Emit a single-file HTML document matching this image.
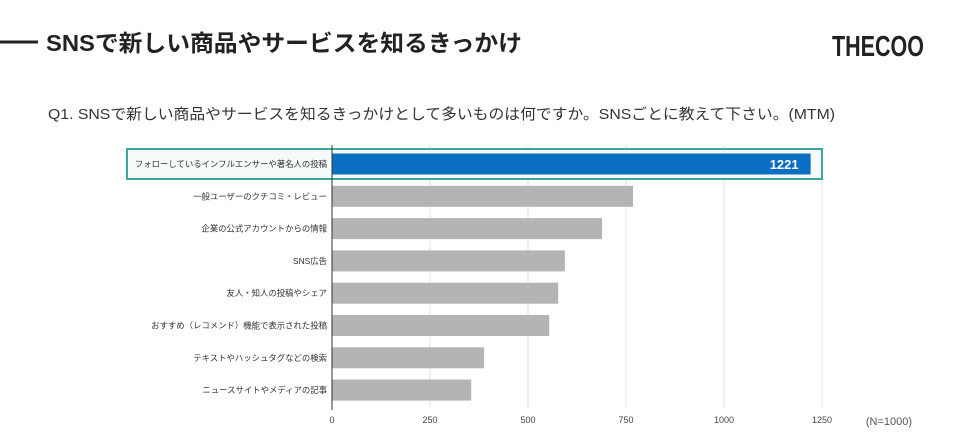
<!DOCTYPE html>
<html><head><meta charset="utf-8"><style>
body{margin:0;background:#fff;width:960px;height:441px;overflow:hidden;font-family:"Liberation Sans","Noto Sans CJK JP",sans-serif;}
</style></head><body>
<svg width="960" height="441" xmlns="http://www.w3.org/2000/svg" font-family="Liberation Sans, Noto Sans CJK JP, sans-serif">
<line x1="0" y1="42" x2="38" y2="42" stroke="#222" stroke-width="3"/>
<text x="46" y="51" font-size="23" font-weight="bold" fill="#222" textLength="476" lengthAdjust="spacingAndGlyphs">SNSで新しい商品やサービスを知るきっかけ</text>
<text x="878" y="56" font-size="29" font-weight="bold" fill="#222" text-anchor="middle" textLength="92" lengthAdjust="spacingAndGlyphs">THECOO</text>
<text x="48" y="119" font-size="15" fill="#333" textLength="787" lengthAdjust="spacingAndGlyphs">Q1. SNSで新しい商品やサービスを知るきっかけとして多いものは何ですか。SNSごとに教えて下さい。(MTM)</text>
<g id="chart"></g>
<text x="912" y="425" font-size="11" fill="#555" text-anchor="end">(N=1000)</text>
</svg>
<script>
const categories=["フォローしているインフルエンサーや著名人の投稿","一般ユーザーのクチコミ・レビュー","企業の公式アカウントからの情報","SNS広告","友人・知人の投稿やシェア","おすすめ（レコメンド）機能で表示された投稿","テキストやハッシュタグなどの検索","ニュースサイトやメディアの記事"];
const values=[1221,768,689,594,577,554,388,355];
const ticks=[0,250,500,750,1000,1250];
const NS="http://www.w3.org/2000/svg";
const g=document.getElementById('chart');
const x0=332,x1=822,max=1250;
const xs=v=>x0+v/max*(x1-x0);
const yTop=148,step=32.3,bh=21;
function mk(t,a){const e=document.createElementNS(NS,t);for(const k in a)e.setAttribute(k,a[k]);g.appendChild(e);return e;}
ticks.forEach(t=>{
 if(t>0){const l=mk('line',{x1:xs(t),x2:xs(t),y1:145,y2:408,stroke:'#e2e2e2','stroke-width':1});
 
 }
 const tx=mk('text',{x:xs(t),y:423,'font-size':9,fill:'#444','text-anchor':'middle'});tx.textContent=t;
 
 
});
const hb=mk('rect',{x:127,y:yTop+1,width:695,height:30,fill:'#f4fbfa',stroke:'#3aa89a','stroke-width':2});


categories.forEach((c,i)=>{
 const cy=yTop+16+i*step;
 const r=mk('rect',{x:x0,y:cy-bh/2,width:xs(values[i])-x0,height:bh,fill:i===0?'#0a6fc2':'#b4b4b4'});
 
 
 const t=mk('text',{x:x0-5,y:cy+3,'font-size':8.4,fill:'#333','text-anchor':'end'});t.textContent=c;
 
 
 if(i===0){const v=mk('text',{x:xs(values[i])-12,y:cy+5,'font-size':13,'font-weight':'bold',fill:'#fff','text-anchor':'end'});v.textContent=values[i];
 
 }
});
const ax=mk('line',{x1:x0,x2:x0,y1:145,y2:410,stroke:'#333','stroke-width':1});


</script>
</body></html>
